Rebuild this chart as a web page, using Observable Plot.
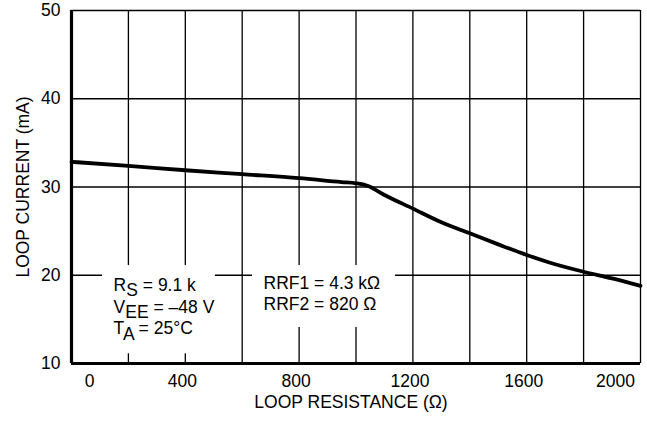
<!DOCTYPE html>
<html>
<head>
<meta charset="utf-8">
<script src="https://cdn.jsdelivr.net/npm/d3@7"></script>
<script src="https://cdn.jsdelivr.net/npm/@observablehq/plot@0.6"></script>
<style>
  html, body { margin: 0; padding: 0; background: #fff; }
  #chart { width: 647px; height: 421px; }
</style>
</head>
<body>
<div id="chart"></div>
<script>
// Loop resistance (Ω) and loop current (mA)
const resistance = [0, 200, 400, 600, 800, 950, 1000, 1040, 1100, 1200, 1300, 1400, 1500, 1600, 1700, 1800, 1900, 2000];
const current    = [32.85, 32.4, 31.9, 31.45, 31.0, 30.55, 30.42, 30.15, 29.1, 27.55, 26.0, 24.75, 23.5, 22.3, 21.25, 20.4, 19.65, 18.8];

// Axis ticks and grid
const xTickLabels = [0, 400, 800, 1200, 1600, 2000];
const xGrid = [200, 400, 600, 800, 1000, 1200, 1400, 1600, 1800];
const yTickLabels = [10, 20, 30, 40, 50];
const yGrid = [20, 30, 40];

// Annotation texts ({X} marks a subscript) and their anchors in data units
const noteTexts = ["R{S} = 9.1 k\nV{EE} = –48 V\nT{A} = 25°C", "RRF1 = 4.3 kΩ\nRRF2 = 820 Ω"];
const noteX = [148, 675];
const noteY = [16.53, 18.06];
// White panels behind the annotations (data units)
const boxX1 = [109, 636], boxX2 = [506, 1139], boxY1 = [11.1, 14.08], boxY2 = [21.1, 21.1];

const curve = resistance.map((r, i) => ({r, i: current[i]}));
const notes = noteTexts.map((t, k) => ({t, x: noteX[k], y: noteY[k]}));
const boxes = boxX1.map((_, k) => ({x1: boxX1[k], x2: boxX2[k], y1: boxY1[k], y2: boxY2[k]}));

const FONT = "'Liberation Sans', Arial, Helvetica, sans-serif";
const fmt = d3.format("d");

const chart = Plot.plot({
  width: 647,
  height: 421,
  marginLeft: 71,
  marginRight: 7,
  marginTop: 10,
  marginBottom: 58,
  style: {fontFamily: FONT, fontSize: "17.5px", background: "#fff", color: "#000"},
  x: {domain: [0, 2000]},
  y: {domain: [10, 50]},
  marks: [
    Plot.ruleX(xGrid, {stroke: "#000", strokeWidth: 1.3}),
    Plot.ruleY(yGrid, {stroke: "#000", strokeWidth: 1.3}),
    Plot.ruleY([50], {stroke: "#000", strokeWidth: 1.3}),
    Plot.ruleX([2000], {stroke: "#000", strokeWidth: 1.3}),
    Plot.rect(boxes, {x1: "x1", x2: "x2", y1: "y1", y2: "y2", fill: "#fff"}),
    Plot.line(curve, {x: "r", y: "i", curve: "monotone-x", stroke: "#000", strokeWidth: 3.8}),
    Plot.ruleX([0], {stroke: "#000", strokeWidth: 3.2}),
    Plot.ruleY([10], {stroke: "#000", strokeWidth: 3.2}),
    Plot.axisX(xTickLabels.slice(1, -1), {tickSize: 0, tickPadding: 11, label: null, fontSize: 17.5, dx: -3, tickFormat: fmt}),
    Plot.axisX(xTickLabels.slice(0, 1), {tickSize: 0, tickPadding: 11, label: null, fontSize: 17.5, dx: 18, tickFormat: fmt}),
    Plot.axisX(xTickLabels.slice(-1), {tickSize: 0, tickPadding: 11, label: null, fontSize: 17.5, dx: -25, tickFormat: fmt}),
    Plot.axisY(yTickLabels, {tickSize: 0, tickPadding: 11, label: null, fontSize: 17.5, tickFormat: fmt}),
    Plot.text(["LOOP CURRENT (mA)"], {frameAnchor: "left", textAnchor: "middle", rotate: -90, dx: -48, fontSize: 17.5, text: d => d}),
    Plot.text(["LOOP RESISTANCE (Ω)"], {frameAnchor: "bottom", textAnchor: "middle", dy: 44, dx: -5, fontSize: 17.5, text: d => d}),
    Plot.text(notes, {x: "x", y: "y", text: "t", textAnchor: "start", lineAnchor: "middle", lineHeight: 1.23, fontSize: 17.5, fill: "#000"})
  ]
});

// Turn {X} markers into real subscript tspans
const NS = "http://www.w3.org/2000/svg";
chart.querySelectorAll("text, tspan").forEach(el => {
  if (el.children.length) return;
  const s = el.textContent;
  if (!s.includes("{")) return;
  el.textContent = "";
  let shifted = false;
  s.split(/(\{[^}]*\})/).forEach(p => {
    if (!p) return;
    const t = document.createElementNS(NS, "tspan");
    if (p.startsWith("{")) {
      t.setAttribute("dy", "0.3em");
      t.textContent = p.slice(1, -1);
      shifted = true;
    } else {
      if (shifted) { t.setAttribute("dy", "-0.3em"); shifted = false; }
      t.textContent = p;
    }
    el.appendChild(t);
  });
});

document.getElementById("chart").appendChild(chart);
</script>
</body>
</html>
